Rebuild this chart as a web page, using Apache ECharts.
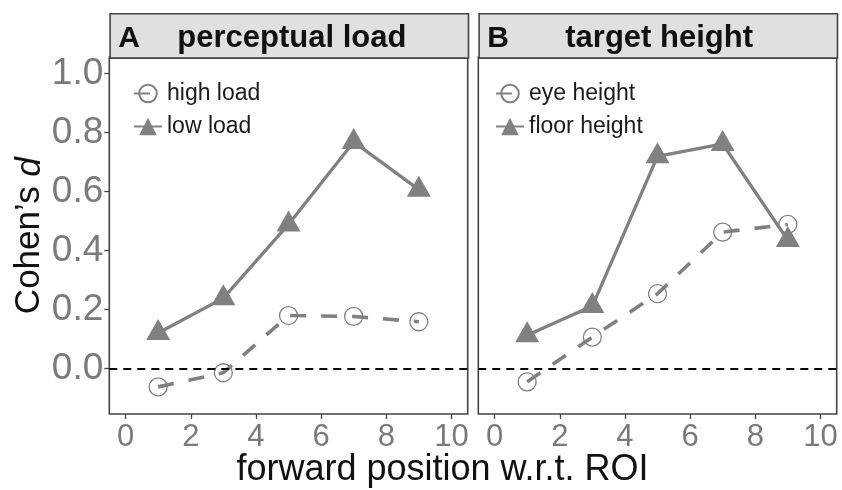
<!DOCTYPE html>
<html>
<head>
<meta charset="utf-8">
<script src="https://cdn.jsdelivr.net/npm/echarts@6/dist/echarts.min.js"></script>
<style>
html,body{margin:0;padding:0;background:#fff;}
#chart{width:842px;height:490px;}
</style>
</head>
<body>
<div id="chart"></div>
<script>
// ---- data ----
const positions = [1, 3, 5, 7, 9];
const highLoad = [-0.063, -0.015, 0.179, 0.176, 0.158];
const lowLoad = [0.120, 0.238, 0.488, 0.768, 0.606];
const eyeHeight = [-0.046, 0.106, 0.253, 0.462, 0.488];
const floorHeight = [0.112, 0.211, 0.719, 0.761, 0.435];
const xTicks = [0, 2, 4, 6, 8, 10];
const yTicks = [0, 0.2, 0.4, 0.6, 0.8, 1.0];
const panelTitles = ['perceptual load', 'target height'];
const panelLetters = ['A', 'B'];
const seriesNames = [['high load', 'low load'], ['eye height', 'floor height']];

// ---- style ----
const FONT = 'Liberation Sans, Arial, Helvetica, sans-serif';
const GREY = '#808080';
const TICKGREY = '#7a7a7a';
const BORDER = '#444444';
const PANEL_TOP = 57.3, PANEL_H = 356.7, PANEL_W = 358.4;
const PANEL_LEFTS = [109.3, 478.3];

const chart = echarts.init(document.getElementById('chart'), null, {renderer: 'canvas'});

function pairs(vals) { return positions.map((x, i) => [x, vals[i]]); }

const grids = PANEL_LEFTS.map(l => ({
  left: l, top: PANEL_TOP, width: PANEL_W, height: PANEL_H,
  show: true, borderColor: BORDER, borderWidth: 1.6, backgroundColor: '#fff',
  containLabel: false
}));

const xAxes = [0, 1].map(i => ({
  type: 'value', gridIndex: i, min: -0.5, max: 10.5, position: 'bottom',
  axisLine: {show: false, onZero: false},
  splitLine: {show: false},
  axisTick: {show: true, inside: false, customValues: xTicks, length: 5, lineStyle: {color: BORDER, width: 1.3}},
  axisLabel: {show: true, customValues: xTicks, margin: 8, fontSize: 31, color: TICKGREY, fontFamily: FONT}
}));

const yAxes = [0, 1].map(i => ({
  type: 'value', gridIndex: i, min: -0.155, max: 1.055, position: 'left',
  axisLine: {show: false, onZero: false},
  splitLine: {show: false},
  axisTick: {show: i === 0, inside: false, customValues: yTicks, length: 5, lineStyle: {color: BORDER, width: 1.3}},
  axisLabel: {show: i === 0, customValues: yTicks, margin: 6, fontSize: 37, color: TICKGREY, fontFamily: FONT,
    formatter: v => v.toFixed(1)},
  name: i === 0 ? 'Cohen\u2019s {i|d}' : '',
  nameLocation: 'middle', nameRotate: 90, nameGap: 62,
  nameTextStyle: {fontSize: 35, color: '#111', fontFamily: FONT,
    rich: {i: {fontStyle: 'italic', fontSize: 35, color: '#111', fontFamily: FONT}}}
}));

function circleSeries(name, vals, idx) {
  return {
    name: name, type: 'line', xAxisIndex: idx, yAxisIndex: idx,
    data: pairs(vals), symbol: 'circle', symbolSize: 18,
    itemStyle: {color: 'rgba(255,255,255,0)', borderColor: GREY, borderWidth: 1.3},
    lineStyle: {color: GREY, width: 3.6, type: [16, 15]},
    z: 3, animation: false,
    markLine: {
      silent: true, symbol: 'none', label: {show: false},
      lineStyle: {color: '#000', width: 1.8, type: [8, 6]},
      data: [{yAxis: 0}], animation: false
    }
  };
}
function triSeries(name, vals, idx) {
  return {
    name: name, type: 'line', xAxisIndex: idx, yAxisIndex: idx,
    data: pairs(vals), symbol: 'triangle', symbolSize: [24, 21], symbolOffset: [0, -3.5],
    itemStyle: {color: GREY},
    lineStyle: {color: GREY, width: 3.3, type: 'solid'},
    z: 4, animation: false
  };
}

const series = [
  circleSeries(seriesNames[0][0], highLoad, 0),
  triSeries(seriesNames[0][1], lowLoad, 0),
  circleSeries(seriesNames[1][0], eyeHeight, 1),
  triSeries(seriesNames[1][1], floorHeight, 1)
];

const legends = [0, 1].map(i => ({
  data: seriesNames[i], orient: 'vertical',
  left: i === 0 ? 133 : 495, top: 82, padding: 0,
  itemWidth: 28, itemHeight: 22, itemGap: 10,
  textStyle: {fontSize: 23, color: '#1a1a1a', fontFamily: FONT},
  selectedMode: false
}));

const graphics = [];
PANEL_LEFTS.forEach((l, i) => {
  graphics.push({
    type: 'rect', left: l, top: 13, z: 10,
    shape: {x: 0, y: 0, width: PANEL_W, height: PANEL_TOP - 13},
    style: {fill: '#e0e0e0', stroke: BORDER, lineWidth: 1.6}
  });
  graphics.push({
    type: 'text', x: l + 9, y: 38.5, z: 11,
    style: {text: panelLetters[i], font: 'bold 30px ' + FONT, fill: '#111', verticalAlign: 'middle', align: 'left'}
  });
  graphics.push({
    type: 'text', x: l + (i === 0 ? 68 : 87), y: 38.5, z: 11,
    style: {text: panelTitles[i], font: 'bold 31px ' + FONT, fill: '#111', verticalAlign: 'middle', align: 'left'}
  });
});
graphics.push({
  type: 'text', x: 442.5, y: 470, z: 11,
  style: {text: 'forward position w.r.t. ROI', font: '36px ' + FONT, fill: '#111', verticalAlign: 'middle', align: 'center'}
});

chart.setOption({
  animation: false,
  backgroundColor: '#fff',
  grid: grids,
  xAxis: xAxes,
  yAxis: yAxes,
  legend: legends,
  series: series,
  graphic: graphics
});
</script>
</body>
</html>
